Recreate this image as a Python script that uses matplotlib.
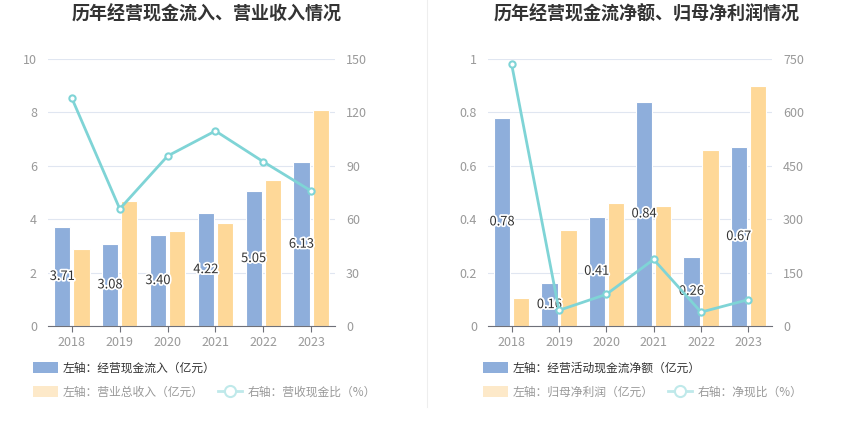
import matplotlib
matplotlib.use("Agg")
import matplotlib.pyplot as plt
import matplotlib.patheffects as pe
from matplotlib.patches import Patch
from matplotlib.lines import Line2D
import numpy as np

plt.rcParams['font.family'] = ['Noto Sans CJK SC', 'DejaVu Sans']

years = ['2018', '2019', '2020', '2021', '2022', '2023']

# left chart
cash_inflow = [3.71, 3.08, 3.40, 4.22, 5.05, 6.13]
revenue = [2.90, 4.68, 3.56, 3.85, 5.47, 8.08]
cash_ratio = [127.9, 65.8, 95.5, 109.6, 92.3, 75.9]

# right chart
net_cash = [0.78, 0.16, 0.41, 0.84, 0.26, 0.67]
net_profit = [0.106, 0.36, 0.46, 0.45, 0.66, 0.90]
net_ratio = [735, 44, 89, 187, 39, 74]

BLUE = '#8eaedb'
ORANGE = '#fed898'
TEAL = '#7fd4d6'
GRID = '#e0e6f1'
TICK = '#999999'

W, H = 850, 437
fig = plt.figure(figsize=(W / 100, H / 100), dpi=100)


def make_axes(x0, x1, y_top=59, y_bot=326):
    return fig.add_axes([x0 / W, (H - y_bot) / H, (x1 - x0) / W, (y_bot - y_top) / H])


def draw_chart(ax, bars1, bars2, line, lmax, lstep, rmax, rstep):
    x = np.arange(len(years))
    ax.bar(x - 0.2, bars1, width=0.34, color=BLUE, edgecolor='white', linewidth=0.8, zorder=2)
    ax.bar(x + 0.2, bars2, width=0.34, color=ORANGE, edgecolor='white', linewidth=0.8, zorder=2)
    ax.set_xlim(-0.5, len(years) - 0.5)
    ax.set_ylim(0, lmax)
    lt = np.arange(0, lmax + lstep / 2, lstep)
    ax.set_yticks(lt)
    ax.set_yticklabels([f'{round(v, 2):g}' for v in lt])
    ax.set_xticks(x)
    ax.set_xticklabels(years)
    ax.grid(axis='y', color=GRID, linewidth=0.8, zorder=0)
    ax.set_axisbelow(True)
    for s in ['top', 'right', 'left']:
        ax.spines[s].set_visible(False)
    ax.spines['bottom'].set_color('#6e7079')
    ax.tick_params(axis='y', length=0, colors=TICK, labelsize=9, pad=8)
    ax.tick_params(axis='x', length=4, color='#6e7079', colors=TICK, labelsize=9, pad=3)

    for i, v in enumerate(bars1):
        ax.text(i - 0.2, v / 2, f'{v:.2f}', ha='center', va='center', fontsize=9.3,
                color='#333333', zorder=5,
                path_effects=[pe.withStroke(linewidth=2.5, foreground='white')])

    ax2 = ax.twinx()
    ax2.plot(x, line, color=TEAL, linewidth=2, marker='o', markersize=4.5,
             markerfacecolor='white', markeredgecolor=TEAL, markeredgewidth=1.5, zorder=4)
    ax2.set_ylim(0, rmax)
    ax2.set_yticks(np.arange(0, rmax + 1, rstep))
    for s in ['top', 'right', 'left', 'bottom']:
        ax2.spines[s].set_visible(False)
    ax2.tick_params(axis='y', length=0, colors=TICK, labelsize=9, pad=8)
    return ax2


ax_l = make_axes(48, 335)
draw_chart(ax_l, cash_inflow, revenue, cash_ratio, 10, 2, 150, 30)

ax_r = make_axes(488, 772)
draw_chart(ax_r, net_cash, net_profit, net_ratio, 1, 0.2, 750, 150)

fig.text(207 / W, 1 - 14 / H, '历年经营现金流入、营业收入情况', ha='center', va='center',
         fontsize=13, fontweight='bold', color='#333333')
fig.text(647 / W, 1 - 14 / H, '历年经营现金流净额、归母净利润情况', ha='center', va='center',
         fontsize=13, fontweight='bold', color='#333333')

# divider
fig.add_artist(Line2D([427 / W, 427 / W], [1 - 407 / H, 1], color='#eeeeee', linewidth=0.8))


def legends(x0, label1, label2, label3):
    h1 = [Patch(facecolor=BLUE, edgecolor='none')]
    fig.legend(h1, [label1], loc='center left', bbox_to_anchor=(x0 / W, 1 - 368 / H),
               frameon=False, fontsize=8.5, handlelength=2.1, handleheight=1.1,
               handletextpad=0.4, labelcolor='#333333', borderpad=0, borderaxespad=0)
    h2 = [Patch(facecolor='#fde9c9', edgecolor='none'),
          Line2D([0], [0], color='#bfe9ea', linewidth=2, marker='o', markersize=8,
                 markerfacecolor='white', markeredgecolor='#bfe9ea', markeredgewidth=1.5)]
    fig.legend(h2, [label2, label3], loc='center left', bbox_to_anchor=(x0 / W, 1 - 392 / H),
               ncol=2, frameon=False, fontsize=8.5, handlelength=2.1, handleheight=1.1,
               handletextpad=0.4, columnspacing=1.2, labelcolor='#999999',
               borderpad=0, borderaxespad=0)


legends(33, '左轴：经营现金流入（亿元）', '左轴：营业总收入（亿元）', '右轴：营收现金比（%）')
legends(483, '左轴：经营活动现金流净额（亿元）', '左轴：归母净利润（亿元）', '右轴：净现比（%）')

fig.savefig('out.png', dpi=100)
